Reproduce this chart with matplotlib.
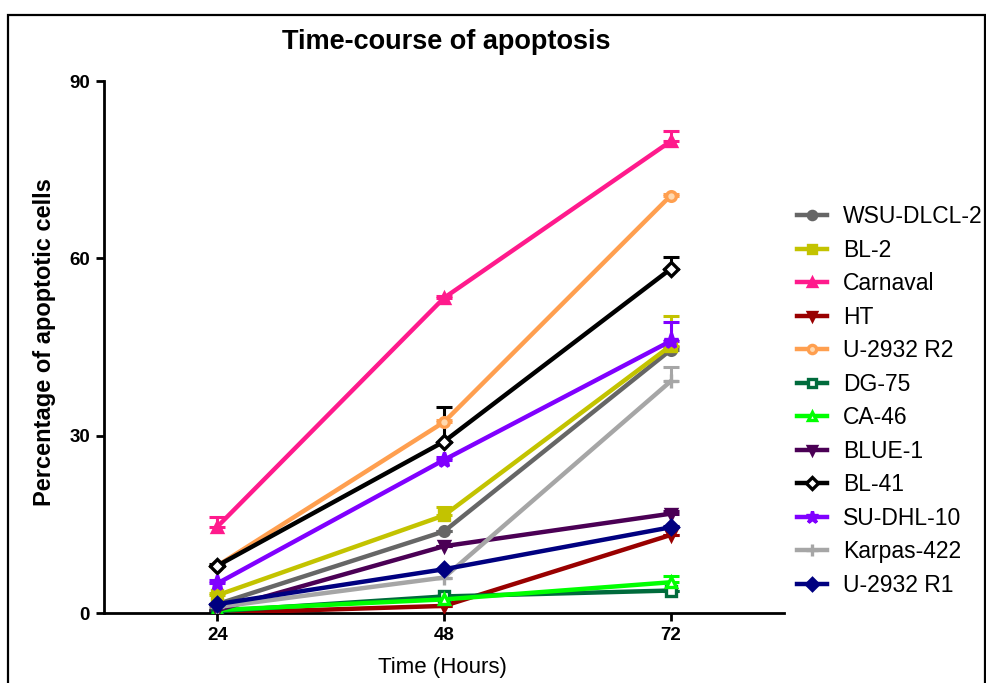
import matplotlib
matplotlib.use("Agg")
import matplotlib.pyplot as plt
from matplotlib.patches import Rectangle

plt.rcParams['font.family'] = ['Liberation Sans', 'DejaVu Sans']

# Time points (hours)
hours = [24, 48, 72]

# Percentage of apoptotic cells per cell line
wsu_dlcl2 = [1.5, 13.8, 44.5]
bl2 = [3.0, 16.5, 45.2]
carnaval = [14.6, 53.3, 79.8]
ht = [0.0, 1.2, 13.2]
u2932_r2 = [8.0, 32.3, 70.6]
dg75 = [0.3, 2.8, 3.8]
ca46 = [0.5, 2.3, 5.2]
blue1 = [0.5, 11.3, 16.8]
bl41 = [8.0, 29.0, 58.2]
sudhl10 = [5.0, 25.9, 46.0]
karpas422 = [1.0, 6.0, 39.2]
u2932_r1 = [1.5, 7.4, 14.5]

# upper error bars
err_wsu_dlcl2 = [0.0, 0.0, 0.5]
err_bl2 = [0.3, 1.5, 5.0]
err_carnaval = [1.6, 0.3, 1.8]
err_ht = [0.0, 0.0, 0.0]
err_u2932_r2 = [0.0, 0.3, 0.3]
err_dg75 = [0.0, 0.0, 0.0]
err_ca46 = [0.0, 0.0, 1.0]
err_blue1 = [0.0, 0.0, 0.5]
err_bl41 = [0.3, 5.9, 2.0]
err_sudhl10 = [0.5, 0.5, 3.2]
err_karpas422 = [0.0, 0.0, 2.5]
err_u2932_r1 = [0.0, 0.0, 0.3]

series = [
    ("WSU-DLCL-2", wsu_dlcl2, err_wsu_dlcl2, "#666666", "o", None),
    ("BL-2", bl2, err_bl2, "#C3C300", "s", None),
    ("Carnaval", carnaval, err_carnaval, "#FF1A8C", "^", None),
    ("HT", ht, err_ht, "#990000", "v", None),
    ("U-2932 R2", u2932_r2, err_u2932_r2, "#FF9F4F", "o", "#FFD9B0"),
    ("DG-75", dg75, err_dg75, "#006B3C", "s", "white"),
    ("CA-46", ca46, err_ca46, "#00FF00", "^", "white"),
    ("BLUE-1", blue1, err_blue1, "#4B0055", "v", None),
    ("BL-41", bl41, err_bl41, "#000000", "D", "white"),
    ("SU-DHL-10", sudhl10, err_sudhl10, "#8000FF", "*", None),
    ("Karpas-422", karpas422, err_karpas422, "#A6A6A6", "+", None),
    ("U-2932 R1", u2932_r1, err_u2932_r1, "#000080", "D", None),
]

fig = plt.figure(figsize=(9.87, 6.83), dpi=100)
ax = fig.add_axes([104 / 987, 70 / 683, 680 / 987, 532 / 683])

handles = []
for name, vals, err, color, marker, mfc in series:
    ax.errorbar(hours, vals, yerr=[[0] * len(err), err], fmt="none",
                ecolor=color, elinewidth=2.2, capsize=6, capthick=2.2, zorder=2)
    ms = 11 if marker == "*" else (10 if marker == "+" else 7)
    line, = ax.plot(hours, vals, color=color, lw=3.2, marker=marker, ms=ms,
                    mfc=mfc if mfc else color, mec=color, mew=2.4,
                    label=name, zorder=3)
    handles.append(line)

ax.set_xlim(12, 84)
ax.set_ylim(0, 90)
ax.set_xticks(hours)
ax.set_yticks([0, 30, 60, 90])
for sp in ["top", "right"]:
    ax.spines[sp].set_visible(False)
for sp in ["left", "bottom"]:
    ax.spines[sp].set_linewidth(2.0)
ax.tick_params(width=2.0, length=6, labelsize=13.5, pad=4)
for lab in ax.get_xticklabels() + ax.get_yticklabels():
    lab.set_fontweight("bold")

fig.text(446 / 987, 1 - 42 / 683, "Time-course of apoptosis",
         ha="center", va="center", fontsize=19.5, fontweight="bold")
fig.text(442 / 987, 1 - 667 / 683, "Time (Hours)",
         ha="center", va="center", fontsize=16)
fig.text(45 / 987, 1 - 342 / 683, "Percentage of apoptotic cells",
         ha="center", va="center", rotation=90, fontsize=17, fontweight="bold")

ax.legend(handles=handles, loc="center left",
          bbox_to_anchor=(797 / 987, 1 - 401 / 683), bbox_transform=fig.transFigure,
          frameon=False, fontsize=16.5, borderpad=0, borderaxespad=0,
          handlelength=1.3, handletextpad=0.7, labelspacing=0.46, markerscale=0.85)

# outer frame of the panel
fig.patches.append(Rectangle((8 / 987, -0.1), 977 / 987, 1.1 - 15 / 683,
                             transform=fig.transFigure, fill=False,
                             edgecolor="black", lw=1.6))

fig.savefig("out.png", dpi=100)
